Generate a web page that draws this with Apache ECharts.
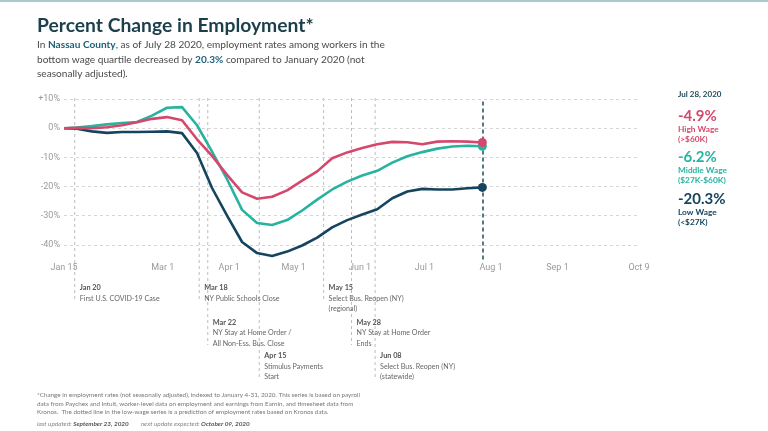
<!DOCTYPE html>
<html><head><meta charset="utf-8">
<script src="https://cdn.jsdelivr.net/npm/echarts@6/dist/echarts.min.js"></script>
<style>html,body{margin:0;padding:0;background:#fff}#c{width:768px;height:431px}</style>
</head><body><div id="c"></div>
<script>
// ---- data ----
const dates = ['2020-01-15','2020-01-21','2020-01-28','2020-02-04','2020-02-11','2020-02-18','2020-02-25','2020-03-03','2020-03-10','2020-03-17','2020-03-24','2020-03-31','2020-04-07','2020-04-14','2020-04-21','2020-04-28','2020-05-05','2020-05-12','2020-05-19','2020-05-26','2020-06-02','2020-06-09','2020-06-16','2020-06-23','2020-06-30','2020-07-07','2020-07-14','2020-07-21','2020-07-28'];
const highWage   = [0, 0.1, 0, 0.3, 1.0, 2.0, 3.2, 3.8, 2.7, -3.8, -9.5, -16.0, -22.0, -24.2, -23.5, -21.3, -18.0, -14.8, -10.3, -8.3, -6.8, -5.5, -4.7, -4.8, -5.5, -4.6, -4.5, -4.6, -4.9];
const middleWage = [0, 0.2, 0.7, 1.3, 1.8, 2.1, 4.3, 7.0, 7.2, 1.0, -8.0, -17.5, -28.0, -32.5, -33.2, -31.5, -28.2, -24.5, -21.0, -18.3, -16.2, -14.6, -11.8, -9.6, -8.2, -7.0, -6.3, -6.0, -6.2];
const lowWage    = [0, -0.2, -1.1, -1.6, -1.3, -1.3, -1.2, -1.1, -1.7, -8.5, -20.5, -30.0, -39.0, -42.8, -43.8, -42.3, -40.2, -37.5, -34.0, -31.5, -29.6, -27.8, -24.0, -21.7, -20.8, -21.0, -21.0, -20.6, -20.3];
const seriesNames  = ['High Wage', 'Middle Wage', 'Low Wage'];
const seriesRanges = ['(>$60K)', '($27K-$60K)', '(<$27K)'];
const latestDate = '2020-07-28';
const latestLabel = 'Jul 28, 2020';
const xTickDates  = ['2020-01-15','2020-03-01','2020-04-01','2020-05-01','2020-06-01','2020-07-01','2020-08-01','2020-09-01','2020-10-09'];
const xTickLabels = ['Jan 15','Mar 1','Apr 1','May 1','Jun 1','Jul 1','Aug 1','Sep 1','Oct 9'];
const yMin = -45, yMax = 10, yStep = 5, yLabelStep = 10;
const eventDates  = ['2020-01-20','2020-03-18','2020-03-22','2020-04-15','2020-05-15','2020-05-28','2020-06-08'];
const eventTitles = ['Jan 20','Mar 18','Mar 22','Apr 15','May 15','May 28','Jun 08'];
const eventTexts  = [['First U.S. COVID-19 Case'],['NY Public Schools Close'],['NY Stay at Home Order /','All Non-Ess. Bus. Close'],['Stimulus Payments','Start'],['Select Bus. Reopen (NY)','(regional)'],['NY Stay at Home Order','Ends'],['Select Bus. Reopen (NY)','(statewide)']];

// ---- layout / style (not data) ----
const eventLevels = [0, 0, 1, 2, 0, 1, 2];
const levelTop = [288, 322.5, 356];
const levelLineBottom = [302, 345, 378];
const colors = ['#d4486c', '#27b3a0', '#16445e'];
const FONT = 'Lato, "Noto Sans", sans-serif';

const t0 = Date.parse(dates[0] + 'T00:00:00Z');
const day = s => Math.round((Date.parse(s + 'T00:00:00Z') - t0) / 86400000);
const xTickDays = xTickDates.map(day);
const seriesValues = [highWage, middleWage, lowWage];
const xMax = day(xTickDates[xTickDates.length - 1]);

const chart = echarts.init(document.getElementById('c'), null, {renderer: 'canvas'});

const series = [];
[2, 1, 0].forEach(i => {
  series.push({
    name: seriesNames[i], type: 'line', z: 3 + (2 - i),
    data: dates.map((d, k) => [day(d), seriesValues[i][k]]),
    showSymbol: false, symbol: 'none',
    lineStyle: {color: colors[i], width: 2.6},
    itemStyle: {color: colors[i]},
    clip: false,
    markLine: i === 2 ? {
      silent: true, symbol: 'none', label: {show: false},
      lineStyle: {color: '#1f4a5a', type: [4, 3], width: 1.5},
      data: [{xAxis: day(latestDate)}]
    } : undefined
  });
});
[2, 1, 0].forEach(i => {
  const vals = seriesValues[i];
  series.push({
    type: 'scatter', z: 10 + (2 - i), symbolSize: 9,
    itemStyle: {color: colors[i], opacity: 1},
    data: [[day(dates[dates.length - 1]), vals[vals.length - 1]]]
  });
});

chart.setOption({
  animation: false,
  grid: {left: 64, right: 129, top: 99, bottom: 171.5, containLabel: false},
  xAxis: {
    type: 'value', min: 0, max: xMax,
    axisLine: {show: false}, axisTick: {show: false}, splitLine: {show: false},
    axisLabel: {
      customValues: xTickDays, margin: 4,
      color: '#9a9a9a', fontSize: 9, fontFamily: 'Roboto, sans-serif',
      formatter: v => { const k = xTickDays.indexOf(Math.round(v)); return k >= 0 ? xTickLabels[k] : ''; }
    }
  },
  yAxis: {
    type: 'value', min: yMin, max: yMax, interval: yStep,
    axisLine: {show: false}, axisTick: {show: false},
    splitLine: {lineStyle: {color: ['rgba(0,0,0,0)', '#d6d6d6'], type: [3, 3], width: 1}},
    axisLabel: {
      margin: 4, color: '#9a9a9a', fontSize: 9, fontFamily: 'Roboto, sans-serif',
      formatter: v => (v % yLabelStep !== 0) ? '' : (v > 0 ? '+' + v + '%' : v + '%')
    }
  },
  series: series
});

// ---- annotations via axis scale ----
const gridTop = chart.convertToPixel({yAxisIndex: 0}, yMax);
const g = [];
g.push({type: 'rect', shape: {x: 0, y: 0, width: 768, height: 2}, style: {fill: '#a9c9ca'}, silent: true});
g.push({type: 'text', x: 37, y: 26, style: {text: 'Percent Change in Employment*', font: 'bold 19.3px ' + FONT, fill: '#1b3f4b', verticalAlign: 'middle'}});
const lowLast = Math.abs(lowWage[lowWage.length - 1]).toFixed(1);
g.push({type: 'text', x: 37, y: 38, style: {
  text: '{n|In }{b|Nassau County}{n|, as of July 28 2020, employment rates among workers in the}\n{n|bottom wage quartile decreased by }{b|' + lowLast + '%}{n| compared to January 2020 (not}\n{n|seasonally adjusted).}',
  rich: {
    n: {font: '10.1px ' + FONT, fill: '#4a4a4a', lineHeight: 14.3},
    b: {font: 'bold 10.1px ' + FONT, fill: '#1d5f78', lineHeight: 14.3}
  }
}});

eventDates.forEach((d, i) => {
  const x = chart.convertToPixel({xAxisIndex: 0}, day(d));
  const lv = eventLevels[i];
  const top = levelTop[lv];
  g.push({type: 'line', shape: {x1: x, y1: gridTop - 1, x2: x, y2: levelLineBottom[lv]}, style: {stroke: '#bdbdbd', lineWidth: 1, lineDash: [3, 3]}, silent: true, z: -1});
  g.push({type: 'text', x: x + 5, y: top, style: {text: eventTitles[i], font: 'bold 7.3px ' + FONT, fill: '#555', verticalAlign: 'middle'}});
  eventTexts[i].forEach((t, j) => {
    g.push({type: 'text', x: x + 5, y: top + 10.5 + j * 10.3, style: {text: t, font: '7.1px ' + FONT, fill: '#666', verticalAlign: 'middle'}});
  });
});

// right-side legend
const lx = 678;
g.push({type: 'text', x: lx, y: 94, style: {text: latestLabel, font: 'bold 8px ' + FONT, fill: '#1f4a5a', verticalAlign: 'middle'}});
const legY = [116, 157, 199];
[0, 1, 2].forEach(i => {
  const vals = seriesValues[i];
  const v = vals[vals.length - 1];
  g.push({type: 'text', x: lx, y: legY[i], style: {text: v.toFixed(1) + '%', font: 'bold 15px ' + FONT, fill: colors[i], verticalAlign: 'middle'}});
  g.push({type: 'text', x: lx, y: legY[i] + 13, style: {text: seriesNames[i], font: 'bold 8.3px ' + FONT, fill: colors[i], verticalAlign: 'middle'}});
  g.push({type: 'text', x: lx, y: legY[i] + 23, style: {text: seriesRanges[i], font: 'bold 8.3px ' + FONT, fill: colors[i], verticalAlign: 'middle'}});
});

// footnote
const foot = [
  '*Change in employment rates (not seasonally adjusted), indexed to January 4-31, 2020. This series is based on payroll',
  'data from Paychex and Intuit, worker-level data on employment and earnings from Earnin, and timesheet data from',
  'Kronos.  The dotted line in the low-wage series is a prediction of employment rates based on Kronos data.'
];
foot.forEach((t, i) => g.push({type: 'text', x: 37, y: 395 + i * 8.7, style: {text: t, font: '6.3px ' + FONT, fill: '#777', verticalAlign: 'middle'}}));
g.push({type: 'text', x: 37, y: 424, style: {
  text: '{i|last updated: }{bi|September 23, 2020}{i|        next update expected: }{bi|October 09, 2020}',
  rich: {i: {font: 'italic 6.4px ' + FONT, fill: '#888'}, bi: {font: 'italic bold 6.4px ' + FONT, fill: '#555'}},
  verticalAlign: 'middle'
}});

chart.setOption({graphic: g});
</script></body></html>
